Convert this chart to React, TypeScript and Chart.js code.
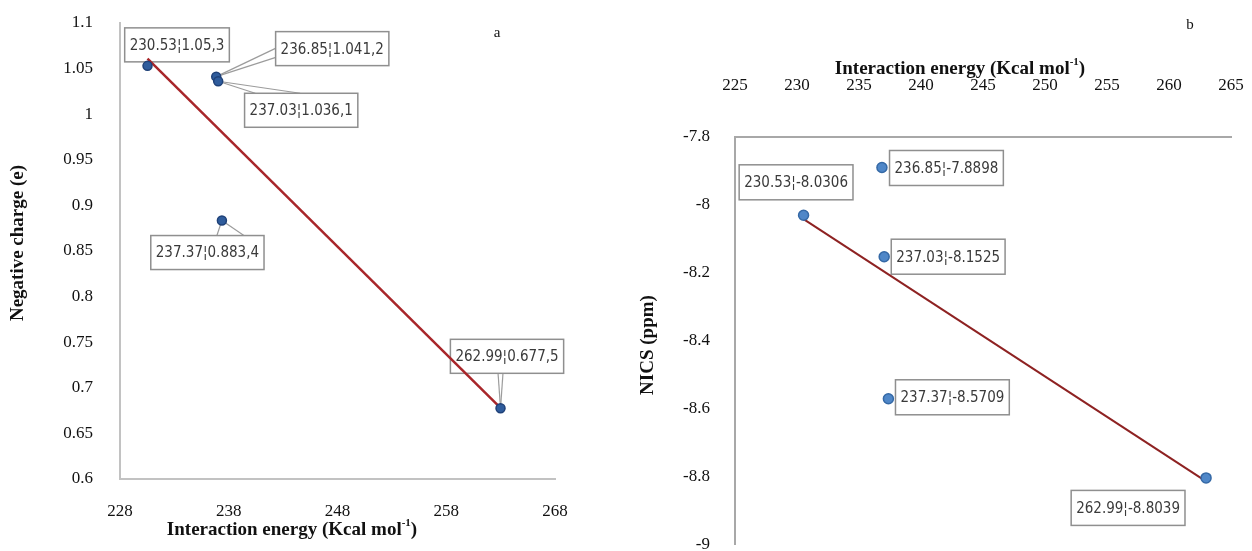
import React, { useEffect, useRef } from "react";
import { Chart, registerables } from "chart.js";

Chart.register(...registerables);

// ---------- data ----------
const energyA = [230.53, 236.85, 237.03, 237.37, 262.99];
const chargeA = [1.053, 1.0412, 1.0361, 0.8834, 0.6775];
const labelsA = ["230.53¦1.05,3", "236.85¦1.041,2", "237.03¦1.036,1", "237.37¦0.883,4", "262.99¦0.677,5"];
const trendEnergyA = [230.53, 262.99];
const trendChargeA = [1.061, 0.678];
const xTicksA = [228, 238, 248, 258, 268];
const yTicksA = [0.6, 0.65, 0.7, 0.75, 0.8, 0.85, 0.9, 0.95, 1, 1.05, 1.1];

const energyB = [230.53, 236.85, 237.03, 237.37, 262.99];
const nicsB = [-8.0306, -7.8898, -8.1525, -8.5709, -8.8039];
const labelsB = ["230.53¦-8.0306", "236.85¦-7.8898", "237.03¦-8.1525", "237.37¦-8.5709", "262.99¦-8.8039"];
const trendEnergyB = [230.53, 262.99];
const trendNicsB = [-8.042, -8.814];
const xTicksB = [225, 230, 235, 240, 245, 250, 255, 260, 265];
const yTicksB = [-9, -8.8, -8.6, -8.4, -8.2, -8, -7.8];

// ---------- layout / style (not data) ----------
const SERIF = '"Liberation Serif", "Times New Roman", serif';
const NARROW = '"Liberation Sans Narrow", "DejaVu Sans Condensed", "Arial Narrow", sans-serif';

type Callout = { dx: number; dy: number; leaders: number[][] };

const calloutsA: Callout[] = [
  { dx: 29.5, dy: -21, leaders: [] },
  { dx: 116, dy: -28, leaders: [[-51, -3], [-51, 7]] },
  { dx: 83, dy: 29, leaders: [[-46, -17], [-1, -17]] },
  { dx: -14.5, dy: 32, leaders: [[9.5, -17], [36.5, -17]] },
  { dx: 6.5, dy: -52, leaders: [[-9, 16.5], [-4, 16.5]] },
];
const calloutsB: Callout[] = [
  { dx: -7.5, dy: -33, leaders: [] },
  { dx: 64.5, dy: 0.5, leaders: [] },
  { dx: 64, dy: 0, leaders: [] },
  { dx: 64, dy: -1.5, leaders: [] },
  { dx: -78, dy: 30, leaders: [] },
];

function drawCallouts(chart: any, texts: string[], callouts: Callout[], fontSize: number, boxH: number) {
  const ctx = chart.ctx as CanvasRenderingContext2D;
  const meta = chart.getDatasetMeta(0);
  ctx.save();
  ctx.font = `${fontSize}px ${NARROW}`;
  meta.data.forEach((el: any, i: number) => {
    const c = callouts[i];
    const cx = el.x + c.dx;
    const cy = el.y + c.dy;
    const w = ctx.measureText(texts[i]).width + 10;
    ctx.strokeStyle = "#9c9c9c";
    ctx.lineWidth = 1.2;
    c.leaders.forEach(([lx, ly]) => {
      ctx.beginPath();
      ctx.moveTo(el.x, el.y);
      ctx.lineTo(cx + lx, cy + ly);
      ctx.stroke();
    });
    ctx.fillStyle = "#ffffff";
    ctx.fillRect(cx - w / 2, cy - boxH / 2, w, boxH);
    ctx.strokeStyle = "#8f8f8f";
    ctx.lineWidth = 1.5;
    ctx.strokeRect(cx - w / 2, cy - boxH / 2, w, boxH);
    ctx.fillStyle = "#3a3a3a";
    ctx.textAlign = "center";
    ctx.textBaseline = "middle";
    ctx.fillText(texts[i], cx, cy + 1);
  });
  ctx.restore();
}

type Part = { t: string; sup?: boolean };

function drawRich(ctx: CanvasRenderingContext2D, parts: Part[], cx: number, cy: number, size: number, rot: number, bold: boolean) {
  const w = bold ? "bold " : "";
  const big = `${w}${size}px ${SERIF}`;
  const small = `${w}${Math.round(size * 0.6)}px ${SERIF}`;
  let total = 0;
  parts.forEach((p) => {
    ctx.font = p.sup ? small : big;
    total += ctx.measureText(p.t).width;
  });
  ctx.save();
  ctx.translate(cx, cy);
  ctx.rotate(rot);
  ctx.fillStyle = "#111";
  ctx.textBaseline = "middle";
  ctx.textAlign = "left";
  let x = -total / 2;
  parts.forEach((p) => {
    ctx.font = p.sup ? small : big;
    ctx.fillText(p.t, x, p.sup ? -size * 0.35 : 0);
    x += ctx.measureText(p.t).width;
  });
  ctx.restore();
}

const energyTitle: Part[] = [{ t: "Interaction energy (Kcal mol" }, { t: "-1", sup: true }, { t: ")" }];

function noPad(s: any) {
  s.paddingTop = 0;
  s.paddingBottom = 0;
  s.paddingLeft = 0;
  s.paddingRight = 0;
}

function makeChartA(canvas: HTMLCanvasElement) {
  return new Chart(canvas, {
    type: "scatter",
    data: {
      datasets: [
        {
          data: energyA.map((x, i) => ({ x, y: chargeA[i] })),
          backgroundColor: "#2f5c9c",
          borderColor: "#1f4178",
          borderWidth: 1.5,
          pointRadius: 4.5,
        },
        {
          data: trendEnergyA.map((x, i) => ({ x, y: trendChargeA[i] })),
          showLine: true,
          borderColor: "#a8262a",
          borderWidth: 2.5,
          pointRadius: 0,
        },
      ],
    },
    options: {
      responsive: false,
      animation: false,
      devicePixelRatio: 1,
      layout: { padding: { left: 0, top: 23, right: 65, bottom: 0 } },
      plugins: { legend: { display: false }, tooltip: { enabled: false } },
      scales: {
        x: {
          type: "linear",
          min: 228,
          max: 268,
          grid: { display: false, drawTicks: false },
          border: { color: "#c2c2c2", width: 2 },
          ticks: { padding: 22, font: { family: SERIF, size: 17 }, color: "#111", maxRotation: 0, autoSkip: false },
          afterBuildTicks: (s: any) => {
            s.ticks = xTicksA.map((v) => ({ value: v }));
          },
          afterFit: (s: any) => {
            s.height = 72;
            noPad(s);
          },
        },
        y: {
          type: "linear",
          min: 0.6,
          max: 1.1,
          grid: { display: false, drawTicks: false },
          border: { color: "#c2c2c2", width: 2 },
          ticks: {
            padding: 27,
            font: { family: SERIF, size: 17 },
            color: "#111",
            callback: (v: any) => String(+Number(v).toFixed(2)),
          },
          afterBuildTicks: (s: any) => {
            s.ticks = yTicksA.map((v) => ({ value: v }));
          },
          afterFit: (s: any) => {
            s.width = 120;
            noPad(s);
          },
        },
      },
    },
    plugins: [
      {
        id: "decorA",
        beforeDatasetsDraw(chart: any) {
          drawCallouts(chart, labelsA, calloutsA, 15, 34);
        },
        afterDraw(chart: any) {
          const ctx = chart.ctx as CanvasRenderingContext2D;
          drawRich(ctx, energyTitle, 292, 530, 19, 0, true);
          drawRich(ctx, [{ t: "Negative charge (e)" }], 18, 243, 19, -Math.PI / 2, true);
          drawRich(ctx, [{ t: "a" }], 497, 33, 15, 0, false);
        },
      },
    ],
  } as any);
}

function makeChartB(canvas: HTMLCanvasElement) {
  return new Chart(canvas, {
    type: "scatter",
    data: {
      datasets: [
        {
          data: energyB.map((x, i) => ({ x, y: nicsB[i] })),
          backgroundColor: "#4f87c8",
          borderColor: "#3569a6",
          borderWidth: 1.5,
          pointRadius: 5,
        },
        {
          data: trendEnergyB.map((x, i) => ({ x, y: trendNicsB[i] })),
          showLine: true,
          borderColor: "#8e2222",
          borderWidth: 2,
          pointRadius: 0,
        },
      ],
    },
    options: {
      responsive: false,
      animation: false,
      devicePixelRatio: 1,
      layout: { padding: { left: 0, top: 0, right: 21, bottom: 3 } },
      plugins: { legend: { display: false }, tooltip: { enabled: false } },
      scales: {
        x: {
          type: "linear",
          position: "top",
          min: 225,
          max: 265,
          grid: { display: false, drawTicks: false },
          border: { color: "#a8a8a8", width: 2 },
          ticks: { padding: 41, font: { family: SERIF, size: 17 }, color: "#111", maxRotation: 0, autoSkip: false },
          afterBuildTicks: (s: any) => {
            s.ticks = xTicksB.map((v) => ({ value: v }));
          },
          afterFit: (s: any) => {
            s.height = 137;
            noPad(s);
          },
        },
        y: {
          type: "linear",
          min: -9,
          max: -7.8,
          grid: { display: false, drawTicks: false },
          border: { color: "#a8a8a8", width: 2 },
          ticks: {
            padding: 25,
            font: { family: SERIF, size: 17 },
            color: "#111",
            callback: (v: any) => String(+Number(v).toFixed(1)),
          },
          afterBuildTicks: (s: any) => {
            s.ticks = yTicksB.map((v) => ({ value: v }));
          },
          afterFit: (s: any) => {
            s.width = 115;
            noPad(s);
          },
        },
      },
    },
    plugins: [
      {
        id: "decorB",
        beforeDatasetsDraw(chart: any) {
          drawCallouts(chart, labelsB, calloutsB, 15, 35);
        },
        afterDraw(chart: any) {
          const ctx = chart.ctx as CanvasRenderingContext2D;
          drawRich(ctx, energyTitle, 340, 69, 19, 0, true);
          drawRich(ctx, [{ t: "NICS (ppm)" }], 28, 345, 19, -Math.PI / 2, true);
          drawRich(ctx, [{ t: "b" }], 570, 25, 15, 0, false);
        },
      },
    ],
  } as any);
}

export default function App() {
  const refA = useRef<HTMLCanvasElement>(null);
  const refB = useRef<HTMLCanvasElement>(null);

  useEffect(() => {
    const a = makeChartA(refA.current!);
    const b = makeChartB(refB.current!);
    return () => {
      a.destroy();
      b.destroy();
    };
  }, []);

  return (
    <div style={{ position: "absolute", left: 0, top: 0, width: 1252, height: 551, background: "#fff", overflow: "hidden" }}>
      <canvas ref={refA} width={620} height={551} style={{ position: "absolute", left: 0, top: 0, width: 620, height: 551 }} />
      <canvas ref={refB} width={632} height={551} style={{ position: "absolute", left: 620, top: 0, width: 632, height: 551 }} />
    </div>
  );
}
